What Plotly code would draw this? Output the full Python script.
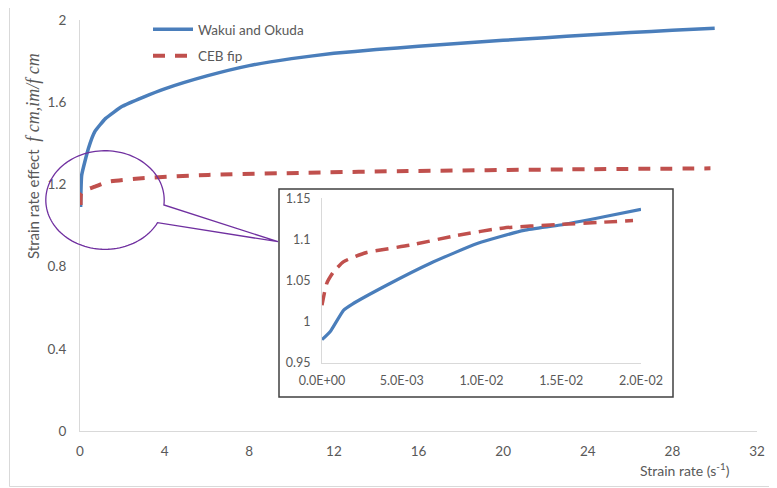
import numpy as np
import plotly.graph_objects as go

# ---------------- data ----------------
main_wakui_x = [0.03, 0.08, 0.4, 0.7, 1.2, 2, 3, 4, 6, 8, 10, 12, 14, 16, 18, 20, 22, 24, 26, 28, 30]
main_wakui_y = [1.09, 1.245, 1.376, 1.457, 1.52, 1.58, 1.625, 1.665, 1.728, 1.778, 1.812, 1.838, 1.856,
                1.872, 1.887, 1.901, 1.914, 1.927, 1.939, 1.950, 1.960]

main_ceb_x = [0.03, 0.06, 0.3, 0.71, 1.34, 2.92, 6.06, 10.8, 15.5, 23.0, 29.8]
main_ceb_y = [1.10, 1.157, 1.175, 1.189, 1.213, 1.230, 1.246, 1.257, 1.265, 1.273, 1.278]

inset_wakui_x = [0.0, 0.00052, 0.00136, 0.00188, 0.00408, 0.0068, 0.00973, 0.01266, 0.01494, 0.01768, 0.0200]
inset_wakui_y = [0.978, 0.988, 1.014, 1.021, 1.0445, 1.071, 1.095, 1.111, 1.1175, 1.1276, 1.1366]

inset_ceb_x = [0.0, 0.0003, 0.00073, 0.00136, 0.0028, 0.00554, 0.0085, 0.0114, 0.01475, 0.01768, 0.0195]
inset_ceb_y = [1.020, 1.0466, 1.0607, 1.073, 1.084, 1.093, 1.105, 1.114, 1.118, 1.121, 1.123]

main_x_ticks = [0, 4, 8, 12, 16, 20, 24, 28, 32]
main_y_ticks = [0, 0.4, 0.8, 1.2, 1.6, 2]
inset_x_ticks = [0.0, 0.005, 0.01, 0.015, 0.02]
inset_x_labels = ["0.0E+00", "5.0E-03", "1.0E-02", "1.5E-02", "2.0E-02"]
inset_y_ticks = [0.95, 1.0, 1.05, 1.1, 1.15]
inset_y_labels = ["0.95", "1", "1.05", "1.1", "1.15"]

series_names = ["Wakui and Okuda", "CEB fip"]

# ---------------- styling ----------------
OFF = 8                      # page body margin of the html page
W, H = 777 - OFF, 488 - OFF  # figure size
PL, PR, PT, PB = 80, 757, 20, 431   # plot area in page pixels
ML, MT = PL - OFF, PT - OFF
MR = W - (PR - OFF)
MB = H - (PB - OFF)
PW, PH = PR - PL, PB - PT
BLUE = "#4a7ebb"
RED = "#c0504d"
PURPLE = "#7030a0"
GRAY_TXT = "#595959"
AXIS = "#d9d9d9"
FONT = "Lato, 'Open Sans', sans-serif"


def px2paper(px, py):
    return (px - PL) / PW, (PB - py) / PH


fig = go.Figure()

fig.add_trace(go.Scatter(x=main_wakui_x, y=main_wakui_y, mode="lines", name=series_names[0],
                         line=dict(color=BLUE, width=3.5, shape="spline", smoothing=0.4),
                         legendgroup="a"))
fig.add_trace(go.Scatter(x=main_ceb_x, y=main_ceb_y, mode="lines", name=series_names[1],
                         line=dict(color=RED, width=4, dash="12px,10px", shape="spline", smoothing=0.5),
                         legendgroup="b"))
fig.add_trace(go.Scatter(x=inset_wakui_x, y=inset_wakui_y, mode="lines", showlegend=False,
                         line=dict(color=BLUE, width=3.2, shape="spline", smoothing=0.5),
                         xaxis="x2", yaxis="y2"))
fig.add_trace(go.Scatter(x=inset_ceb_x, y=inset_ceb_y, mode="lines", showlegend=False,
                         line=dict(color=RED, width=3.5, dash="13px,8px", shape="spline", smoothing=0.5),
                         xaxis="x2", yaxis="y2"))

# inset domain
ix0, iy0 = px2paper(322, 362.7)
ix1, iy1 = px2paper(641, 198.3)

fig.update_layout(
    width=W, height=H,
    margin=dict(l=ML, r=MR, t=MT, b=MB, autoexpand=False),
    paper_bgcolor="white", plot_bgcolor="white",
    font=dict(family=FONT, size=13, color=GRAY_TXT),
    showlegend=True,
    legend=dict(x=px2paper(148, 0)[0], y=px2paper(0, 14)[1], xanchor="left", yanchor="top",
                bgcolor="rgba(0,0,0,0)", font=dict(size=13.5, color=GRAY_TXT),
                tracegroupgap=6, itemwidth=40),
    xaxis=dict(range=[0, 32], tickvals=main_x_ticks, showgrid=False, zeroline=False,
               showline=True, linecolor=AXIS, linewidth=1, ticks="", ticklabelstandoff=8,
               tickfont=dict(size=13.5)),
    yaxis=dict(range=[0, 2], tickvals=main_y_ticks, showgrid=False, zeroline=False,
               showline=True, linecolor=AXIS, linewidth=1, ticks="", ticklabelstandoff=10,
               tickfont=dict(size=13.5)),
    xaxis2=dict(domain=[ix0, ix1], anchor="y2", range=[0, 0.02], tickvals=inset_x_ticks,
                ticktext=inset_x_labels, showgrid=False, zeroline=False, showline=True,
                linecolor=AXIS, linewidth=1, ticks="", ticklabelstandoff=6, tickfont=dict(size=12.5)),
    yaxis2=dict(domain=[iy0, iy1], anchor="x2", range=[0.95, 1.15], tickvals=inset_y_ticks,
                ticktext=inset_y_labels, showgrid=False, zeroline=False, showline=True,
                linecolor=AXIS, linewidth=1, ticks="", ticklabelstandoff=8, tickfont=dict(size=12.5)),
)

# inset box
bx0, by0 = px2paper(279, 397)
bx1, by1 = px2paper(673, 189)
fig.add_shape(type="rect", xref="paper", yref="paper", x0=bx0, y0=by0, x1=bx1, y1=by1,
              fillcolor="white", line=dict(color="#404040", width=1.5), layer="below")

# outer chart border
ox0, oy0 = px2paper(9.5, 486.5)
ox1, oy1 = px2paper(800, 2.5)
fig.add_shape(type="rect", xref="paper", yref="paper", x0=ox0, y0=oy0, x1=ox1, y1=oy1,
              line=dict(color=AXIS, width=1), layer="below")

# wedge-ellipse callout
cx, cy, rx, ry = 105, 200, 59.2, 49.3
t_start = np.deg2rad(27.4)
t_end = np.deg2rad(365.8)
ts = np.linspace(t_start, t_end, 120)
pts = [px2paper(cx + rx * np.cos(t), cy + ry * np.sin(t)) for t in ts]
tip = px2paper(278, 241.7)
path = "M " + " L ".join(f"{a:.5f},{b:.5f}" for a, b in pts)
path += f" L {tip[0]:.5f},{tip[1]:.5f} Z"
fig.add_shape(type="path", xref="paper", yref="paper", path=path,
              line=dict(color=PURPLE, width=1.3), fillcolor="rgba(0,0,0,0)")

# axis titles
yt = px2paper(33, 156)
fig.add_annotation(xref="paper", yref="paper", x=yt[0], y=yt[1], textangle=-90,
                   text="Strain rate effect  <span style='font-family:Liberation Serif;font-size:18px'><i>f cm,im/f cm</i></span>",
                   showarrow=False, xanchor="center", yanchor="middle",
                   font=dict(size=15, color=GRAY_TXT))
xt = px2paper(685, 469)
fig.add_annotation(xref="paper", yref="paper", x=xt[0], y=xt[1],
                   text="Strain rate (s<sup>-1</sup>)", showarrow=False,
                   xanchor="center", yanchor="middle", font=dict(size=14, color=GRAY_TXT))

fig.write_html("out.html")
